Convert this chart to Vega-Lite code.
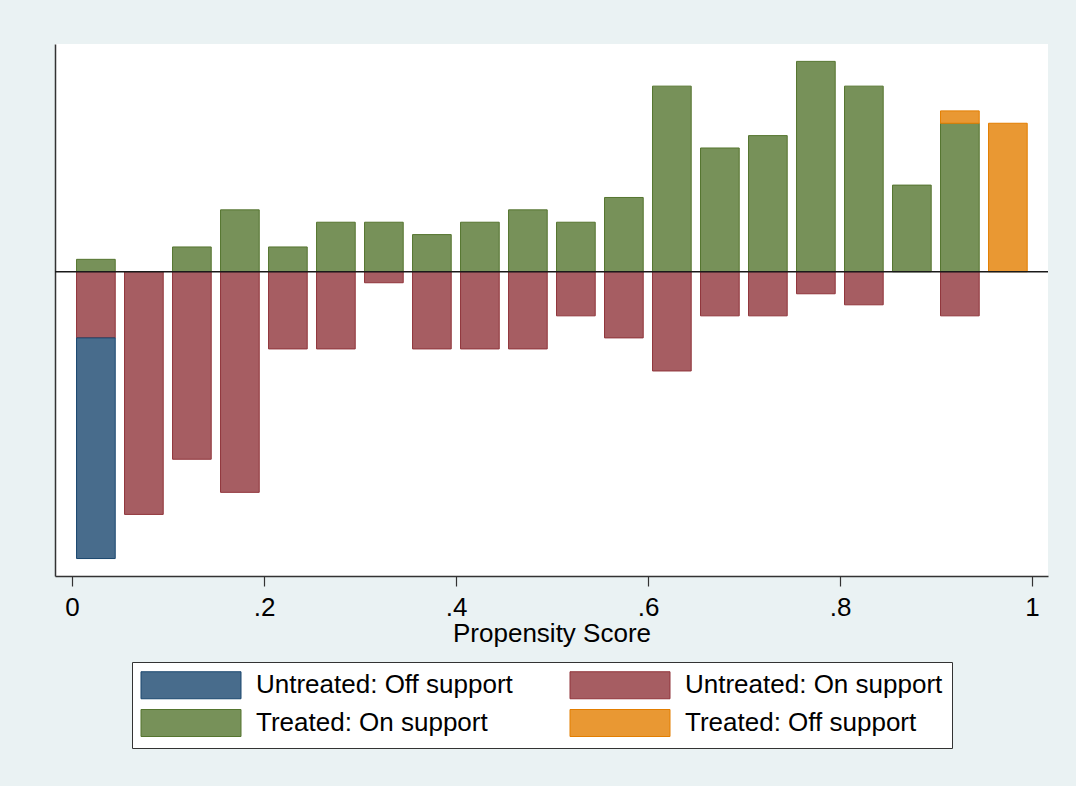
{
  "$schema": "https://vega.github.io/schema/vega-lite/v6.json",
  "autosize": {"type": "none"},
  "width": 993,
  "height": 532,
  "padding": {"left": 55, "top": 44, "right": 28, "bottom": 210},
  "background": "#eaf2f3",
  "config": {"view": {"fill": "white", "stroke": null}, "font": "Liberation Sans"},
  "data": {"values": [
    {"lo": 0.0042, "hi": 0.0445, "group": "Treated: On support", "share": 0.00714},
    {"lo": 0.0042, "hi": 0.0445, "group": "Untreated: On support", "share": -0.03822},
    {"lo": 0.0042, "hi": 0.0445, "group": "Untreated: Off support", "share": -0.12739},
    {"lo": 0.0542, "hi": 0.0945, "group": "Untreated: On support", "share": -0.14013},
    {"lo": 0.1042, "hi": 0.1445, "group": "Treated: On support", "share": 0.01429},
    {"lo": 0.1042, "hi": 0.1445, "group": "Untreated: On support", "share": -0.10828},
    {"lo": 0.1542, "hi": 0.1945, "group": "Treated: On support", "share": 0.03571},
    {"lo": 0.1542, "hi": 0.1945, "group": "Untreated: On support", "share": -0.12739},
    {"lo": 0.2042, "hi": 0.2445, "group": "Treated: On support", "share": 0.01429},
    {"lo": 0.2042, "hi": 0.2445, "group": "Untreated: On support", "share": -0.04459},
    {"lo": 0.2542, "hi": 0.2945, "group": "Treated: On support", "share": 0.02857},
    {"lo": 0.2542, "hi": 0.2945, "group": "Untreated: On support", "share": -0.04459},
    {"lo": 0.3042, "hi": 0.3445, "group": "Treated: On support", "share": 0.02857},
    {"lo": 0.3042, "hi": 0.3445, "group": "Untreated: On support", "share": -0.00637},
    {"lo": 0.3542, "hi": 0.3945, "group": "Treated: On support", "share": 0.02143},
    {"lo": 0.3542, "hi": 0.3945, "group": "Untreated: On support", "share": -0.04459},
    {"lo": 0.4042, "hi": 0.4445, "group": "Treated: On support", "share": 0.02857},
    {"lo": 0.4042, "hi": 0.4445, "group": "Untreated: On support", "share": -0.04459},
    {"lo": 0.4542, "hi": 0.4945, "group": "Treated: On support", "share": 0.03571},
    {"lo": 0.4542, "hi": 0.4945, "group": "Untreated: On support", "share": -0.04459},
    {"lo": 0.5042, "hi": 0.5445, "group": "Treated: On support", "share": 0.02857},
    {"lo": 0.5042, "hi": 0.5445, "group": "Untreated: On support", "share": -0.02548},
    {"lo": 0.5542, "hi": 0.5945, "group": "Treated: On support", "share": 0.04286},
    {"lo": 0.5542, "hi": 0.5945, "group": "Untreated: On support", "share": -0.03822},
    {"lo": 0.6042, "hi": 0.6445, "group": "Treated: On support", "share": 0.10714},
    {"lo": 0.6042, "hi": 0.6445, "group": "Untreated: On support", "share": -0.05732},
    {"lo": 0.6542, "hi": 0.6945, "group": "Treated: On support", "share": 0.07143},
    {"lo": 0.6542, "hi": 0.6945, "group": "Untreated: On support", "share": -0.02548},
    {"lo": 0.7042, "hi": 0.7445, "group": "Treated: On support", "share": 0.07857},
    {"lo": 0.7042, "hi": 0.7445, "group": "Untreated: On support", "share": -0.02548},
    {"lo": 0.7542, "hi": 0.7945, "group": "Treated: On support", "share": 0.12143},
    {"lo": 0.7542, "hi": 0.7945, "group": "Untreated: On support", "share": -0.01274},
    {"lo": 0.8042, "hi": 0.8445, "group": "Treated: On support", "share": 0.10714},
    {"lo": 0.8042, "hi": 0.8445, "group": "Untreated: On support", "share": -0.01911},
    {"lo": 0.8542, "hi": 0.8945, "group": "Treated: On support", "share": 0.05},
    {"lo": 0.9042, "hi": 0.9445, "group": "Treated: On support", "share": 0.08571},
    {"lo": 0.9042, "hi": 0.9445, "group": "Treated: Off support", "share": 0.00714},
    {"lo": 0.9042, "hi": 0.9445, "group": "Untreated: On support", "share": -0.02548},
    {"lo": 0.9542, "hi": 0.9945, "group": "Treated: Off support", "share": 0.08571}
  ]},
  "layer": [
    {
      "mark": {"type": "bar", "strokeWidth": 1, "binSpacing": 0},
      "encoding": {
        "x": {
          "field": "lo", "type": "quantitative", "bin": "binned",
          "scale": {"domain": [-0.01771, 1.01667], "nice": false, "zero": false},
          "axis": {
            "values": [0, 0.2, 0.4, 0.6, 0.8, 1],
            "labelExpr": "datum.value == 0 ? '0' : datum.value == 1 ? '1' : '.' + round(datum.value * 10)",
            "labelFont": "Liberation Sans", "labelFontSize": 26, "labelColor": "black",
            "labelPadding": 8, "tickSize": 10, "tickColor": "#333333", "tickWidth": 1.2,
            "domainColor": "#333333", "domainWidth": 1.5, "grid": false,
            "title": "Propensity Score", "titleFont": "Liberation Sans", "titleFontSize": 26,
            "titleFontWeight": "normal", "titleColor": "black", "titlePadding": 0
          }
        },
        "x2": {"field": "hi"},
        "y": {
          "field": "share", "type": "quantitative", "stack": "zero",
          "scale": {"domain": [-0.17569, 0.13147], "nice": false, "zero": false},
          "axis": {"title": null, "labels": false, "ticks": false, "grid": false, "domain": true, "domainColor": "#333333", "domainWidth": 1.5}
        },
        "fill": {
          "field": "group", "type": "nominal",
          "scale": {
            "domain": ["Untreated: Off support", "Untreated: On support", "Treated: On support", "Treated: Off support"],
            "range": ["#486c8c", "#a65d62", "#779159", "#e99833"]
          },
          "legend": {
            "title": null, "orient": "none", "legendX": 77, "legendY": 618,
            "direction": "horizontal", "columns": 2, "columnPadding": 55, "rowPadding": 6, "padding": 9,
            "fillColor": "white", "strokeColor": "#333333",
            "symbolType": "M-3.7037,-1H3.7037V1H-3.7037Z", "symbolSize": 729, "symbolStrokeWidth": 1,
            "symbolOffset": 36,
            "labelFont": "Liberation Sans", "labelFontSize": 26, "labelColor": "black",
            "labelOffset": 51, "labelLimit": 500
          }
        },
        "stroke": {
          "field": "group", "type": "nominal",
          "scale": {
            "domain": ["Untreated: Off support", "Untreated: On support", "Treated: On support", "Treated: Off support"],
            "range": ["#1a476f", "#90353b", "#55752f", "#e37e00"]
          },
          "legend": {
            "title": null, "orient": "none", "legendX": 77, "legendY": 618,
            "direction": "horizontal", "columns": 2, "columnPadding": 55, "rowPadding": 6, "padding": 9,
            "fillColor": "white", "strokeColor": "#333333",
            "symbolType": "M-3.7037,-1H3.7037V1H-3.7037Z", "symbolSize": 729, "symbolStrokeWidth": 1,
            "symbolOffset": 36,
            "labelFont": "Liberation Sans", "labelFontSize": 26, "labelColor": "black",
            "labelOffset": 51, "labelLimit": 500
          }
        },
        "order": {"field": "group", "sort": "descending"}
      }
    },
    {
      "data": {"values": [{}]},
      "mark": {"type": "rule", "color": "#1a1a1a", "strokeWidth": 1.5},
      "encoding": {"y": {"datum": 0}}
    }
  ]
}
